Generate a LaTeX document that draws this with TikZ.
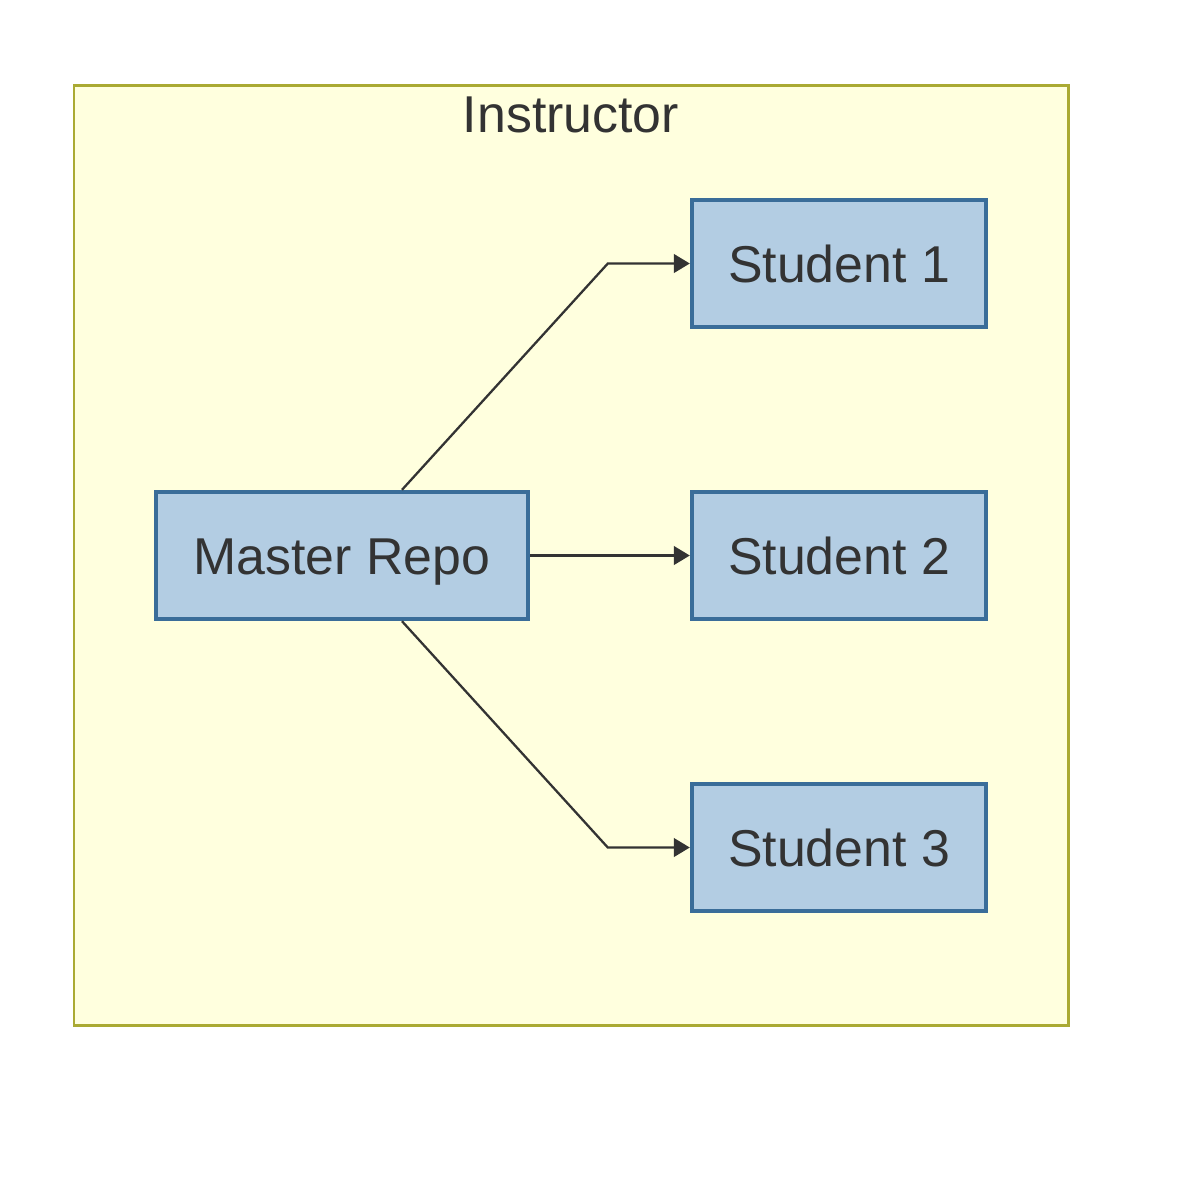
\documentclass[tikz,border=0pt]{standalone}
\usepackage{fontspec}
\setmainfont{Liberation Sans}
\usetikzlibrary{calc,arrows.meta}
\definecolor{clusterfill}{HTML}{FFFFDE}
\definecolor{clusterline}{HTML}{AAAA33}
\definecolor{repofill}{HTML}{B3CDE3}
\definecolor{repoline}{HTML}{3A6D99}
\definecolor{inktext}{HTML}{333333}
\tikzset{
  repo/.style={draw=repoline, fill=repofill, line width=2.5pt, text=inktext,
    minimum height=127*0.02cm, inner sep=0pt,
    text height=21.5pt, text depth=0pt,
    font=\fontsize{29.5}{35}\selectfont},
  link/.style={draw=inktext, line width=1.3pt,
    -{Triangle[length=9pt,width=10.5pt]}},
}
\begin{document}
\begin{tikzpicture}[x=0.02cm, y=-0.02cm]
			%%%%% START %%%%%
			\useasboundingbox[fill=white] (0, 0) rectangle (1200, 1178);
			
			\draw[fill=clusterfill, draw=clusterline, line width=1.7pt] (74, 85) rectangle (1068, 1025);
			\node[text=inktext, font=\fontsize{29.5}{35}\selectfont] (instructor) at (571, 115) {Instructor};
			
			\node[repo, minimum width=372*0.02cm] (master) at (342, 555.5) {Master Repo};
			
			\node[repo, minimum width=294*0.02cm] (s1) at (839, 263.5) {Student 1};
			\node[repo, minimum width=294*0.02cm] (s2) at (839, 555.5) {Student 2};
			\node[repo, minimum width=294*0.02cm] (s3) at (839, 847.5) {Student 3};
			
			\draw[link] ($(master.north)+(60, 0)$) -- ($(s1.west)+(-82, 0)$) -- (s1.west);
			\draw[link] (master.east) -- (s2.west);
			\draw[link] ($(master.south)+(60, 0)$) -- ($(s3.west)+(-82, 0)$) -- (s3.west);
			
			%%%%% END %%%%%
\end{tikzpicture}
\end{document}
